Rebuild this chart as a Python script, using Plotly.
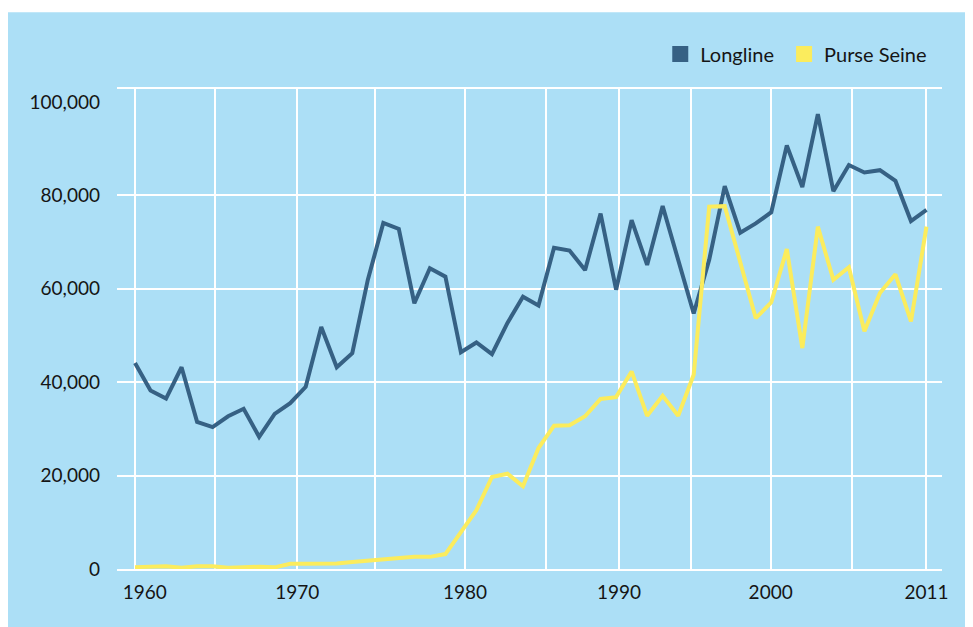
import plotly.graph_objects as go

years = list(range(1960, 2012))

longline = [
    44100, 38200, 36500, 43200, 31500, 30400, 32700, 34300, 28300, 33200,
    35500, 39000, 51800, 43200, 46200, 61900, 74100, 72800, 56900, 64400,
    62600, 46400, 48500, 46000, 52700, 58300, 56400, 68800, 68200, 64000,
    76100, 59800, 74700, 65100, 77700, 66200, 54700, 66200, 82000, 72000,
    74000, 76400, 90700, 81800, 97400, 80900, 86500, 84900, 85400, 83100,
    74500, 76900,
]

purse_seine = [
    400, 500, 600, 250, 600, 600, 250, 350, 500, 350,
    1100, 1100, 1100, 1200, 1500, 1800, 2000, 2300, 2600, 2600,
    3200, 7900, 12600, 19700, 20400, 17700, 25900, 30700, 30800, 32700,
    36400, 36800, 42300, 32800, 37100, 32800, 41600, 77600, 77700, 65700,
    53700, 57100, 68500, 47300, 73300, 61900, 64600, 50900, 59100, 63100,
    53000, 73300,
]

# x-axis gridlines of the original artwork (not evenly spaced), with their labels
x_grid_positions = [1960.0, 1965.15, 1970.46, 1975.46, 1981.26, 1986.48,
                    1991.19, 1995.8, 2000.96, 2006.18, 2011.0]
NB = "\u00a0"
x_grid_labels = [NB * 4 + "1960", "", "1970", "", "1980", "", "1990", "", "2000", "", "2011"]

y_grid_values = [0, 20000, 40000, 60000, 80000]
y_grid_labels = ["0", "20,000", "40,000", "60,000", "80,000"]
y_top_value = [100000]
y_top_label = ["100,000"]

series_names = ["Longline", "Purse Seine"]
legend_labels = ["Longline" + NB, "Purse Seine"]
colors = ["#366184", "#FBEC5D"]
BG = "#ACDFF6"
FONT = "Lato"
TXT = "#151515"

fig = go.Figure()
for name, vals, c in zip(series_names, [longline, purse_seine], colors):
    fig.add_trace(go.Scatter(x=years, y=vals, mode="lines", name=name,
                             line=dict(color=c, width=4), showlegend=False))
# legend entries as squares
for name, c in zip(legend_labels, colors):
    fig.add_trace(go.Scatter(x=[None], y=[None], mode="markers", name=name,
                             marker=dict(symbol="square", size=16, color=c),
                             yaxis="y2", showlegend=True))

yr = [0, 102780]
fig.update_layout(
    width=973, height=627,
    margin=dict(l=109, r=39, t=81, b=66),
    paper_bgcolor="white",
    plot_bgcolor=BG,
    font=dict(family=FONT, size=19, color=TXT),
    showlegend=True,
    legend=dict(orientation="h", x=0.6585, xanchor="left", y=1.073, yanchor="middle",
                bgcolor="rgba(0,0,0,0)", font=dict(size=20, color=TXT),
                itemwidth=30, tracegroupgap=0),
    xaxis=dict(range=[1958.84, 2012.0], tickmode="array", tickvals=x_grid_positions,
               ticktext=x_grid_labels, showgrid=True, gridcolor="white", gridwidth=2,
               showline=True, mirror=True, linecolor="white", linewidth=2,
               zeroline=False, ticks="", ticklabelstandoff=5, fixedrange=True),
    yaxis=dict(range=yr, tickmode="array", tickvals=y_grid_values, ticktext=y_grid_labels,
               showgrid=True, gridcolor="white", gridwidth=2, zeroline=False,
               showline=False, ticks="", ticklabelstandoff=16),
    yaxis2=dict(range=yr, overlaying="y", side="left", tickmode="array",
                tickvals=y_top_value, ticktext=y_top_label, showgrid=False,
                zeroline=False, showline=False, ticks="", ticklabelstandoff=16),
    shapes=[dict(type="rect", xref="paper", yref="paper", x0=-0.14, x1=1.2,
                 y0=-0.3, y1=1.16, fillcolor=BG, line=dict(width=0), layer="below")],
)

fig.write_html("out.html")
